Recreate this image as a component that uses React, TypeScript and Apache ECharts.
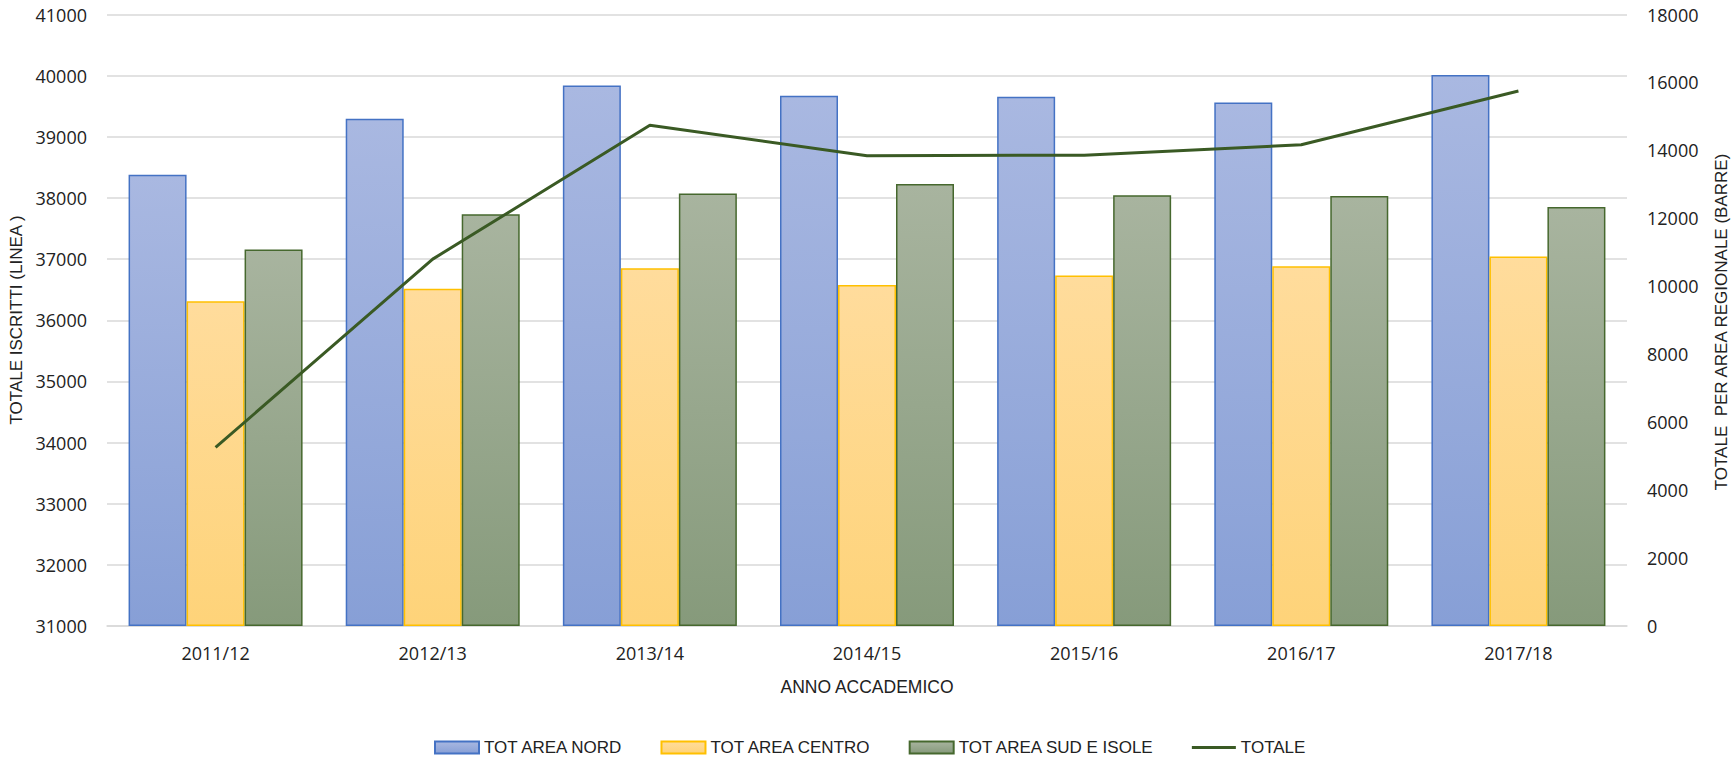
import React, { useEffect, useRef } from "react";
import * as echarts from "echarts";

const categories = ["2011/12", "2012/13", "2013/14", "2014/15", "2015/16", "2016/17", "2017/18"];
const nord = [13280, 14930, 15910, 15610, 15580, 15410, 16220];
const centro = [9560, 9930, 10530, 10040, 10320, 10590, 10880];
const sud = [11080, 12120, 12730, 13010, 12680, 12660, 12330];
const totale = [33920, 37000, 39190, 38690, 38700, 38870, 39750];

const seriesNames = ["TOT AREA NORD", "TOT AREA CENTRO", "TOT AREA SUD E ISOLE", "TOTALE"];
const leftTitle = "TOTALE ISCRITTI (LINEA )";
const rightTitle = "TOTALE  PER AREA REGIONALE (BARRE)";
const xTitle = "ANNO ACCADEMICO";

const grad = (top: string, bottom: string) =>
  new echarts.graphic.LinearGradient(0, 0, 0, 1, [
    { offset: 0, color: top },
    { offset: 1, color: bottom },
  ]);

export default function App() {
  const ref = useRef<HTMLDivElement>(null);
  useEffect(() => {
    if (!ref.current) return;
    const chart = echarts.init(ref.current, undefined, { renderer: "svg" });
    const labelFont = { fontFamily: "Open Sans", fontSize: 18, color: "#222222" };
    const titleFont = { fontFamily: "Liberation Sans", fontSize: 17, fill: "#222222" };
    const plain = (v: number) => String(v);
    chart.setOption({
      animation: false,
      backgroundColor: "#ffffff",
      grid: { left: 107, right: 104, top: 14.5, bottom: 138, containLabel: false },
      legend: {
        left: 429,
        top: 734,
        itemWidth: 44,
        itemHeight: 12,
        itemGap: 37,
        symbolKeepAspect: true,
        textStyle: { fontFamily: "Liberation Sans", fontSize: 17, color: "#222222" },
        data: [
          { name: seriesNames[0], icon: "rect" },
          { name: seriesNames[1], icon: "rect" },
          { name: seriesNames[2], icon: "rect" },
          { name: seriesNames[3], icon: "path://M0,0 L44,0 L44,3 L0,3 Z" },
        ],
      },
      xAxis: {
        type: "category",
        data: categories,
        axisLine: { show: true, lineStyle: { color: "#D9D9D9", width: 1.5 } },
        axisTick: { show: false },
        axisLabel: { ...labelFont, margin: 18 },
      },
      yAxis: [
        {
          type: "value",
          min: 31000,
          max: 41000,
          interval: 1000,
          position: "left",
          axisLine: { show: false },
          axisTick: { show: false },
          splitLine: { show: true, lineStyle: { color: "#D9D9D9", width: 1.5 } },
          axisLabel: { ...labelFont, margin: 20, formatter: plain },
        },
        {
          type: "value",
          min: 0,
          max: 18000,
          interval: 2000,
          position: "right",
          axisLine: { show: false },
          axisTick: { show: false },
          splitLine: { show: false },
          axisLabel: { ...labelFont, margin: 20, formatter: plain },
        },
      ],
      graphic: [
        {
          type: "text",
          x: 16,
          y: 320,
          rotation: Math.PI / 2,
          style: { ...titleFont, text: leftTitle, textAlign: "center", textVerticalAlign: "middle" },
        },
        {
          type: "text",
          x: 1721,
          y: 322,
          rotation: Math.PI / 2,
          style: { ...titleFont, text: rightTitle, textAlign: "center", textVerticalAlign: "middle" },
        },
        {
          type: "text",
          x: 867,
          y: 687,
          style: { ...titleFont, fontSize: 17.5, text: xTitle, textAlign: "center", textVerticalAlign: "middle" },
        },
      ],
      series: [
        {
          name: seriesNames[0],
          type: "bar",
          yAxisIndex: 1,
          data: nord,
          barWidth: 58,
          barGap: "0%",
          itemStyle: { color: grad("#A9B8E1", "#879FD6"), borderColor: "#4472C4", borderWidth: 1.5 },
        },
        {
          name: seriesNames[1],
          type: "bar",
          yAxisIndex: 1,
          data: centro,
          barWidth: 58,
          barGap: "0%",
          itemStyle: { color: grad("#FFDC9C", "#FED379"), borderColor: "#FFC000", borderWidth: 1.5 },
        },
        {
          name: seriesNames[2],
          type: "bar",
          yAxisIndex: 1,
          data: sud,
          barWidth: 58,
          barGap: "0%",
          itemStyle: { color: grad("#A8B49F", "#869A7B"), borderColor: "#46682E", borderWidth: 1.5 },
        },
        {
          name: seriesNames[3],
          type: "line",
          yAxisIndex: 0,
          data: totale,
          symbol: "none",
          itemStyle: { color: "#3A5A24" },
          lineStyle: { color: "#3A5A24", width: 3 },
          z: 5,
        },
      ],
    });
    return () => chart.dispose();
  }, []);
  return (
    <div
      ref={ref}
      style={{ position: "fixed", left: 0, top: 0, width: 1731, height: 764, background: "#fff" }}
    />
  );
}
